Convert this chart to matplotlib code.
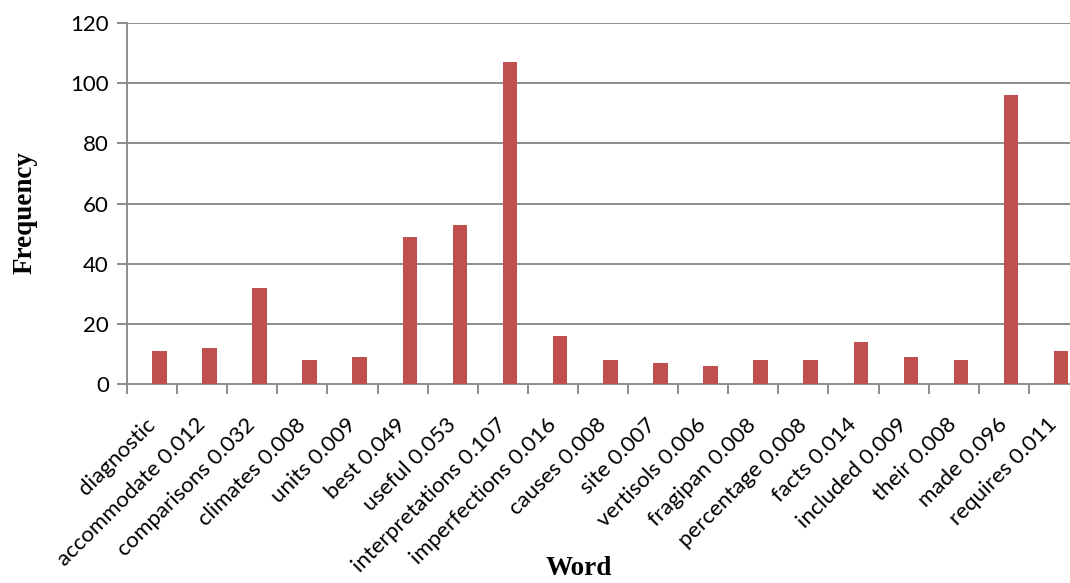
import matplotlib
matplotlib.use('Agg')
import matplotlib.pyplot as plt
import matplotlib.transforms as mtransforms
import numpy as np

# Words with their relative weights, and how often each one occurs
words = ['diagnostic', 'accommodate 0.012', 'comparisons 0.032', 'climates 0.008',
         'units 0.009', 'best 0.049', 'useful 0.053', 'interpretations 0.107',
         'imperfections 0.016', 'causes 0.008', 'site 0.007', 'vertisols 0.006',
         'fragipan 0.008', 'percentage 0.008', 'facts 0.014', 'included 0.009',
         'their 0.008', 'made 0.096', 'requires 0.011']
frequency = [11, 12, 32, 8, 9, 49, 53, 107, 16, 8, 7, 6, 8, 8, 14, 9, 8, 96, 11]
yticks = [0, 20, 40, 60, 80, 100, 120]

grey = '#8c8c8c'
barColor = '#c0504d'

fig = plt.figure(figsize=(10.7, 5.83), dpi=100)
# the plot area runs a little past the right edge of the figure
ax = fig.add_axes([0.1187, 0.3413, 0.8897, 0.6192])

x = np.arange(len(words))
ax.bar(x + 0.5, frequency, width=0.29, align='edge', color=barColor, zorder=3)

ax.set_xlim(0, len(words))
ax.set_ylim(0, 120)
ax.set_yticks(yticks)
ax.yaxis.grid(True, color=grey, linewidth=1.4, zorder=0)

ax.set_xticks(np.arange(len(words) + 1))
ax.set_xticklabels([])
ax.set_xticks(x + 0.5, minor=True)
ax.set_xticklabels(words, minor=True, rotation=45, ha='right', va='center',
                   rotation_mode='anchor', family='Lato', fontsize=16)
# nudge the slanted labels a bit to the right
shift = mtransforms.ScaledTranslation(5 / 100, 0, fig.dpi_scale_trans)
for lab in ax.get_xticklabels(minor=True):
    lab.set_transform(lab.get_transform() + shift)
ax.tick_params(axis='x', which='major', direction='out', length=7, width=1.4, color=grey)
ax.tick_params(axis='x', which='minor', length=0, pad=27)
ax.tick_params(axis='y', length=7, width=1.4, color=grey, labelsize=16, pad=6)
for lab in ax.get_yticklabels():
    lab.set_family('Lato')

for side in ['top', 'right']:
    ax.spines[side].set_visible(False)
for side in ['left', 'bottom']:
    ax.spines[side].set_color(grey)
    ax.spines[side].set_linewidth(1.4)

ax.set_ylabel('Frequency', family='Liberation Serif', fontweight='bold', fontsize=19.5)
ax.yaxis.set_label_coords(-0.094, 0.476)
fig.text(0.541, 0.003, 'Word', family='Liberation Serif', fontweight='bold', fontsize=19.5,
         ha='center', va='bottom')

fig.savefig('out.png', dpi=100)
plt.close()
